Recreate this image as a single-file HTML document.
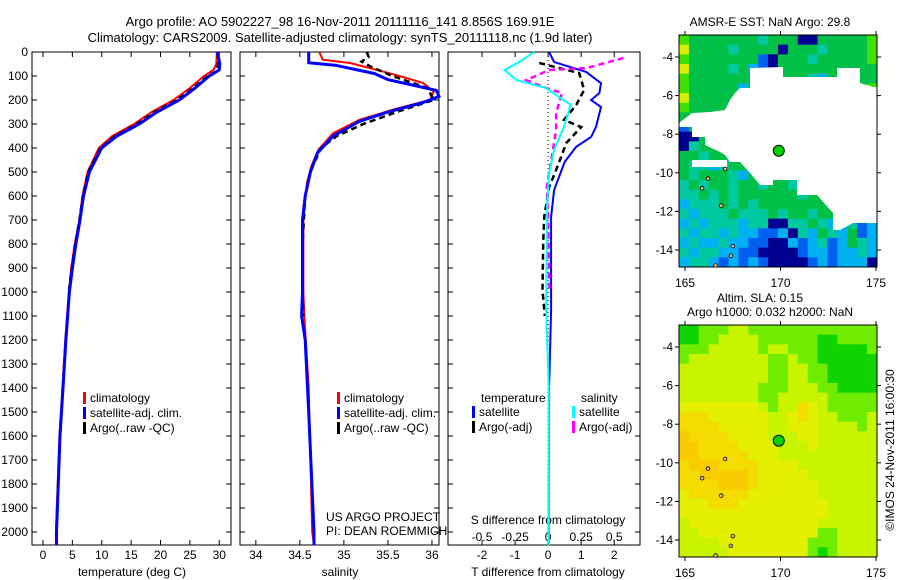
<!DOCTYPE html>
<html><head><meta charset="utf-8"><style>
body{margin:0;background:#fff}
svg{display:block;font-family:"Liberation Sans",sans-serif;font-size:12px}
</style></head><body>
<svg id="fig" width="900" height="580" viewBox="0 0 900 580">
<text x="340" y="26" text-anchor="middle" font-size="13">Argo profile: AO 5902227_98 16-Nov-2011 20111116_141 8.856S 169.91E</text>
<text x="340" y="42" text-anchor="middle" font-size="13">Climatology: CARS2009. Satellite-adjusted climatology: synTS_20111118.nc (1.9d later)</text>
<text x="770" y="26" text-anchor="middle">AMSR-E SST: NaN Argo: 29.8</text>
<text x="760" y="302" text-anchor="middle">Altim. SLA: 0.15</text>
<text x="770" y="316" text-anchor="middle">Argo h1000: 0.032 h2000: NaN</text>
<text transform="translate(894,450) rotate(-90)" text-anchor="middle">©IMOS 24-Nov-2011 16:00:30</text>
<text x="326" y="521">US ARGO PROJECT</text>
<text x="326" y="535">PI: DEAN ROEMMICH</text>
</svg>
<script>
// ---- data ----
const tDepth=[0,50,75,100,150,200,250,300,350,400,500,600,700,800,900,1000,1200,1400,1600,1800,2000,2055];
const tClim=[29.6,29.5,29.0,27.4,25.0,22.2,18.5,15.5,11.8,9.5,7.6,6.7,6.2,5.4,4.8,4.4,3.8,3.3,2.8,2.5,2.2,2.2];
const tSat=[29.7,30.1,30.0,28.3,25.9,23.2,19.4,16.4,12.6,10.0,7.9,6.9,6.3,5.6,5.0,4.5,3.9,3.4,2.9,2.6,2.3,2.3];
const aDepth=[0,50,80,100,150,200,250,300,350,400,500,600,700,800,900,1000];
const tArgo=[29.7,29.8,29.6,28.0,25.6,22.8,19.0,16.0,12.3,9.8,7.7,6.8,6.2,5.5,4.9,4.4];
const sDepth=[0,32,46,74,101,129,164,199,240,282,338,407,476,546,700,1000,1100,1400,2000,2055];
const sClim=[34.72,34.76,35.07,35.37,35.64,35.90,36.02,35.98,35.56,35.18,34.88,34.71,34.63,34.58,34.54,34.54,34.55,34.60,34.64,34.66];
const sSatDepth=[0,45,55,90,115,160,185,210,250,290,350,420,500,600,700,1000,1100,1200,1500,2000,2055];
const sSat=[34.60,34.60,34.90,35.35,35.50,36.05,36.08,35.90,35.50,35.17,34.88,34.70,34.62,34.56,34.53,34.53,34.52,34.56,34.60,34.66,34.66];
const sArgoDepth=[0,20,40,60,100,150,200,250,300,350,400,500,600,800,1000,1100];
const sArgo=[35.26,35.28,35.20,35.30,35.55,35.95,36.02,35.60,35.22,34.92,34.74,34.62,34.56,34.53,34.53,34.54];
const dTSatDepth=[0,42,83,130,171,200,229,312,354,395,458,575,687,1075,1400,2000,2055];
const dTSat=[0.03,0.18,1.15,1.6,1.55,1.3,1.6,1.45,1.3,0.85,0.5,0.18,0.09,0.09,0.03,0.02,0.02];
const dSSatDepth=[0,42,75,117,150,220,312,408,504,630,1075,1400,2000,2055];
const dSSat=[-0.105,-0.22,-0.33,-0.24,-0.015,0.17,0.12,0.045,0.008,-0.008,-0.015,0.005,0.005,0.005];
const dSArgoDepth=[25,67,75,117,150,171,254,325,463,563,700,1000];
const dSArgo=[0.57,0.29,0.008,-0.165,-0.015,0.105,0.06,0.06,0.02,-0.01,0.0,0.01];
const dTArgoDepth=[46,88,158,221,283,313,379,492,563,688,796,992,1100];
const dTArgo=[-0.27,0.94,1.09,0.85,0.48,1.0,0.55,0.24,0.03,-0.12,-0.15,-0.17,-0.1];
const depthTicks=[0,100,200,300,400,500,600,700,800,900,1000,1100,1200,1300,1400,1500,1600,1700,1800,1900,2000];
const tTicks=[0,5,10,15,20,25,30];
const sTicks=[34,34.5,35,35.5,36];
const dTTicks=[-2,-1,0,1,2];
const dSTicks=[-0.5,-0.25,0,0.25,0.5];
const latTicks=[-4,-6,-8,-10,-12,-14];
const lonTicks=[165,170,175];
const sstGrid=[
"lgggggggtgggnngggggl","yggggtggggngggtggggl","lgggggggbngggtgggggl","yggggtgcbngggggggggg",
"lggggggggcgggtcggggg","lgggggcggggggcgggggl","yggggggggggggggggggg","lggggygggggggggggggg",
"gggtgggggggggggggggg","bggggggggggggggggggg","nnggggggggggggggggtc","ntgggggggggggggggggb",
"ggtggggggggggggggggb","gttctggggggggggggggt","gtgggtcgggtggggggggg","tgtggtggtggtgggggggg",
"ttgtgtggggggtgggtggg","ctttgtgtggggggggggtt","tctttgtttgtggtggtgtt","ctctttcttnnttgtcttbc",
"tcttctccbbcntcgtcgbc","ctcctccbbnncbctbcgtc","tcttccbbnnnnbccbcctc","cttcbcbcbnnnnbcbcccn"];
const slaGrid=[
"GGLLLYYLLLLLLLLLLLLL","GGLLYYYYLLLLLLGGLLLL","LLLYYYYYLYYLLLGGGGGL","LYYYYYYYYLLYLLGGGGGG",
"YYYYYYYYYLLYYLLGGGGG","YYYYYYYYYLLYYLLGGGGG","YYYYYYYYLLLYYYLLGGGG","YYYYYYYYLLYYYYYLLLLL",
"yyyyyyyyYLYYoyYLLLLL","oooyyyyyyYYyoyYYLLLY","ooooyyyyyYYyyyYYYYLY","OooooyyyyYYYyyYYYYYY",
"OOooooyyyyYYYyYYYYYY","OOoooooyyyYYYYYYYYYY","oOOOooooyyyyYYYYYYYY","ooOOOOOoyyyyyYYYYYYY",
"ooooOOOoyyyyyyYYYYYY","yooooooyyyyyyyYYYYYY","yyyoooyyyyyyyyyYYYYY","yyyyyyyyyyyyyyyYYYYY",
"YyyyyyyyyyyyyyYYYYYY","YYyyyyyyyyyyyyLLYYYY","YYYYyyyyyyyyyLLLYYYY","YYYYYyyyyyyyyLGLYYYY"];
const sstColors={l:"#40e000",y:"#d8f000",g:"#00c048",t:"#00c8a0",c:"#00b0f0",b:"#0060f0",n:"#000090"};
const slaColors={G:"#10d400",L:"#70ec00",Y:"#c8f400",y:"#e4f000",o:"#f4dc00",O:"#f8cc00"};
const argoLat=-8.856, argoLon=169.91;

// ---- drawing ----
const svg=document.getElementById('fig');
const NS="http://www.w3.org/2000/svg";
function mk(tag,attrs,parent){const e=document.createElementNS(NS,tag);for(const k in attrs)e.setAttribute(k,attrs[k]);(parent||svg).appendChild(e);return e;}
const Y0=52,YS=0.24,YB=545;
const yD=d=>Y0+d*YS;
const panels=[{x0:32,x1:231,v0:-1.87,v1:32},{x0:240,x1:439,v0:33.82,v1:36.08},{x0:448,x1:640,v0:-3.03,v1:2.78}];
const sx=(p,v)=>panels[p].x0+(v-panels[p].v0)/(panels[p].v1-panels[p].v0)*(panels[p].x1-panels[p].x0);
const sxS=v=>sx(2,v*4);
function line(xs,ds,fx,color,w,dash,name){
  const pts=xs.map((v,i)=>fx(v).toFixed(1)+","+yD(ds[i]).toFixed(1)).join(" ");
  const e=mk('polyline',{points:pts,fill:"none",stroke:color,"stroke-width":w});
  if(dash)e.setAttribute('stroke-dasharray',dash);
  
  
}
panels.forEach((p,i)=>{
  const r=mk('rect',{x:p.x0,y:Y0,width:p.x1-p.x0,height:YB-Y0,fill:"none",stroke:"#000","stroke-width":1});
  
  
  depthTicks.forEach(d=>{
    mk('line',{x1:p.x0,x2:p.x0+5,y1:yD(d),y2:yD(d),stroke:"#000"});
    mk('line',{x1:p.x1,x2:p.x1-5,y1:yD(d),y2:yD(d),stroke:"#000"});
  });
});
depthTicks.forEach(d=>{
  const t=mk('text',{x:28,y:yD(d)+4,"text-anchor":"end"});t.textContent=d;
  
  
});
function xTicks(p,ticks,fx,labelY,top,bottom){
  ticks.forEach(v=>{
    const x=fx(v);
    if(bottom)mk('line',{x1:x,x2:x,y1:YB,y2:YB-5,stroke:"#000"});
    if(top)mk('line',{x1:x,x2:x,y1:Y0,y2:Y0+5,stroke:"#000"});
    const t=mk('text',{x:x,y:labelY,"text-anchor":"middle"});t.textContent=v;
    
    
  });
}
xTicks(0,tTicks,v=>sx(0,v),559,true,true);
xTicks(1,sTicks,v=>sx(1,v),559,true,true);
xTicks(2,dTTicks,v=>sx(2,v),559,true,true);
xTicks(2,dSTicks,v=>sxS(v),541,false,false);
[["temperature (deg C)",132],["salinity",340],["T difference from climatology",548]].forEach(([s,x])=>{
  const t=mk('text',{x:x,y:576,"text-anchor":"middle"});t.textContent=s;
  
  
});
{const t=mk('text',{x:548,y:524,"text-anchor":"middle"});t.textContent="S difference from climatology";

}
{const z=mk('line',{x1:sx(2,0),x2:sx(2,0),y1:Y0,y2:YB,stroke:"#000","stroke-dasharray":"1,3"});

}
line(tClim,tDepth,v=>sx(0,v),"#f00",2,null,"temp-climatology-line");
line(tArgo,aDepth,v=>sx(0,v),"#000",2.5,"6,4","temp-argo-line");
line(tSat,tDepth,v=>sx(0,v),"#00f",3,null,"temp-satellite-line");
line(sClim,sDepth,v=>sx(1,v),"#f00",2,null,"sal-climatology-line");
line(sArgo,sArgoDepth,v=>sx(1,v),"#000",2.5,"6,4","sal-argo-line");
line(sSat,sSatDepth,v=>sx(1,v),"#00f",3,null,"sal-satellite-line");
line(dTSat,dTSatDepth,v=>sx(2,v),"#00f",2,null,"tdiff-satellite-line");
line(dTArgo,dTArgoDepth,v=>sx(2,v),"#000",2.5,"6,4","tdiff-argo-line");
line(dSArgo,dSArgoDepth,v=>sxS(v),"#f0f",2.5,"6,4","sdiff-argo-line");
line(dSSat,dSSatDepth,v=>sxS(v),"#0ff",2,null,"sdiff-satellite-line");
function legend(x,y,items,name){
  items.forEach(([c,s],i)=>{
    mk('rect',{x:x,y:y+i*15-10,width:3,height:12,fill:c});
    const t=mk('text',{x:x+7,y:y+i*15});t.textContent=s;
    
    
  });
}
legend(83,402,[["#f00","climatology"],["#00f","satellite-adj. clim."],["#000","Argo(..raw -QC)"]],'temp-legend');
legend(337,402,[["#f00","climatology"],["#00f","satellite-adj. clim."],["#000","Argo(..raw -QC)"]],'sal-legend');
{const t=mk('text',{x:481,y:402});t.textContent="temperature";}
{const t=mk('text',{x:581,y:402});t.textContent="salinity";}
legend(472,416,[["#00f","satellite"],["#000","Argo(-adj)"]],'tdiff-legend');
legend(572,416,[["#0ff","satellite"],["#f0f","Argo(-adj)"]],'sdiff-legend');
function drawMap(y0,y1,grid,colors,name){
  const X0=679,X1=877;
  const lonX=v=>685+(v-165)*19.1;
  const latY=v=>(y0+22)+(-4-v)*19.3;
  const g=mk('g',{});
  
  
  const rows=grid.length,cw=(X1-X0)/20,ch=(y1-y0)/rows;
  grid.forEach((row,r)=>{for(let c=0;c<20;c++){const k=row[c]||row[row.length-1];
    mk('rect',{x:X0+c*cw,y:y0+r*ch,width:cw+0.5,height:ch+0.5,fill:colors[k]},g);}});
  return {g,lonX,latY,X0,X1};
}
function mapFrame(m,y0,y1,lblY){
  mk('rect',{x:m.X0,y:y0,width:m.X1-m.X0,height:y1-y0,fill:"none",stroke:"#000"});
  latTicks.forEach(v=>{const y=m.latY(v);
    mk('line',{x1:m.X0,x2:m.X0-4,y1:y,y2:y,stroke:"#000"});mk('line',{x1:m.X1,x2:m.X1+4,y1:y,y2:y,stroke:"#000"});
    const t=mk('text',{x:673,y:y+4,"text-anchor":"end"});t.textContent=v;
    });
  lonTicks.forEach(v=>{const x=m.lonX(v);
    mk('line',{x1:x,x2:x,y1:y0,y2:y0-4,stroke:"#000"});mk('line',{x1:x,x2:x,y1:y1,y2:y1+4,stroke:"#000"});
    const t=mk('text',{x:x,y:lblY,"text-anchor":"middle"});t.textContent=v;
    });
  const d=mk('circle',{cx:m.lonX(argoLon),cy:m.latY(argoLat),r:5.5,fill:"#00d000",stroke:"#000"});
  
  
  [[-10.8,165.9],[-11.7,166.9],[-13.8,167.5],[-14.3,167.4],[-10.3,166.2],[-9.8,167.1],[-14.8,166.6]].forEach(([la,lo])=>
    mk('circle',{cx:m.lonX(lo),cy:m.latY(la),r:1.8,fill:"#f0c090",stroke:"#000","stroke-width":0.8}));
}
const m1=drawMap(35,267,sstGrid,sstColors,'sst-map');
mk('polygon',{points:"750,68 783,67 783,77 837,77 837,68 860,68 860,83 873,87 878,87 878,223 853,223 840,230 833,230 833,213 817,195 797,195 797,180 773,180 773,185 760,185 750,173 740,162 730,162 725,155 720,152 705,145 705,137 692,137 692,127 679,127 679,123 692,113 710,112 725,110 730,100 735,93 740,88 750,88",fill:"#fff"},m1.g);
mk('rect',{x:692,y:160,width:35,height:7,fill:"#fff"},m1.g);
mapFrame(m1,35,267,287);
const m2=drawMap(325,557,slaGrid,slaColors,'sla-map');
mapFrame(m2,325,557,577);
</script>
</body></html>
